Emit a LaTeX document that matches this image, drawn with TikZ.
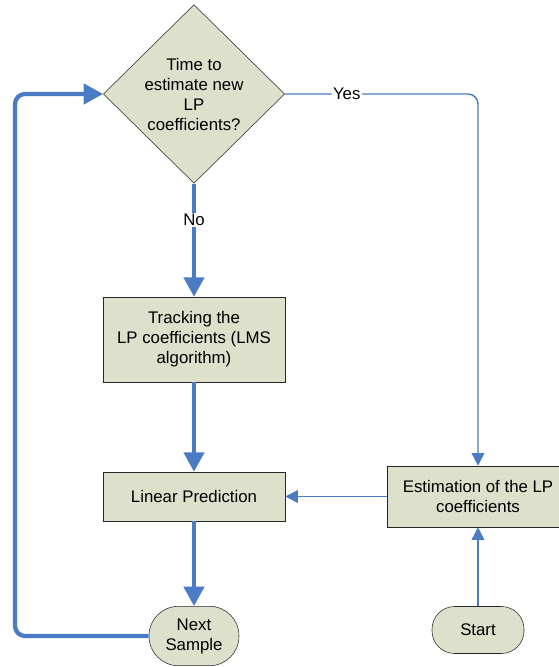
\documentclass[tikz,border=0pt]{standalone}
\usepackage{fontspec}
\setmainfont{Liberation Sans}
\usetikzlibrary{shapes.geometric,arrows.meta}

\definecolor{FlowBlue}{HTML}{4A7BC4}
\definecolor{BoxFill}{HTML}{DDE0CB}

\tikzset{
    box/.style={rectangle, draw=black!85, fill=BoxFill, align=center, inner sep=0pt,
        font=\fontsize{12.6}{15}\selectfont},
    decision/.style={box, diamond, aspect=1, minimum width=136pt, minimum height=134pt},
    terminal/.style={box, rounded corners=17pt},
    mainflow/.style={FlowBlue, line width=3.2pt, -{Triangle[length=14.5pt, width=15pt]}},
    sideflow/.style={FlowBlue, line width=1.1pt, -{Triangle[length=9.5pt, width=9.5pt]}},
    flowlabel/.style={fill=white, text=black, inner sep=1pt, font=\fontsize{12.6}{15}\selectfont}
}

\begin{document}
\begin{tikzpicture}[x=0.75pt, y=-0.75pt]
        \useasboundingbox (0,0) rectangle (559,667);
        \clip (0,0) rectangle (559,667);

        \node[decision] (decide) at (194,94) {Time to\\estimate new\\LP\\coefficients?};
        \node[box, minimum width=136.5pt, minimum height=63.75pt] (track) at (194,339.5) {Tracking the\\LP coefficients (LMS\\algorithm)};
        \node[box, minimum width=136.5pt, minimum height=36.75pt] (predict) at (194,496.5) {Linear Prediction};
        \node[box, minimum width=136.5pt, minimum height=45.75pt] (estimate) at (478,496.5) {Estimation of the LP\\coefficients};
        \node[terminal, minimum width=67.5pt, minimum height=44.5pt, rounded corners=22pt] (next) at (194,636) {Next\\Sample};
        \node[terminal, minimum width=69pt, minimum height=35.25pt] (start) at (478,630) {Start};

        \coordinate (loop) at (15,94);

        \draw[mainflow] (decide.south) -- node[flowlabel, pos=0.32] {No} (track.north);
        \draw[mainflow] (track) -- (predict);
        \draw[mainflow] (predict) -- (next);
        \draw[mainflow, rounded corners=7.5pt] (next.west) -| (loop) -- (decide.west);

        \draw[sideflow, rounded corners=7.5pt] (decide.east) -| node[flowlabel, pos=0.16] {Yes} (estimate.north);
        \draw[sideflow] (estimate.west) -- (predict.east);
        \draw[sideflow] (start.north) -- (estimate.south);
\end{tikzpicture}
\end{document}
